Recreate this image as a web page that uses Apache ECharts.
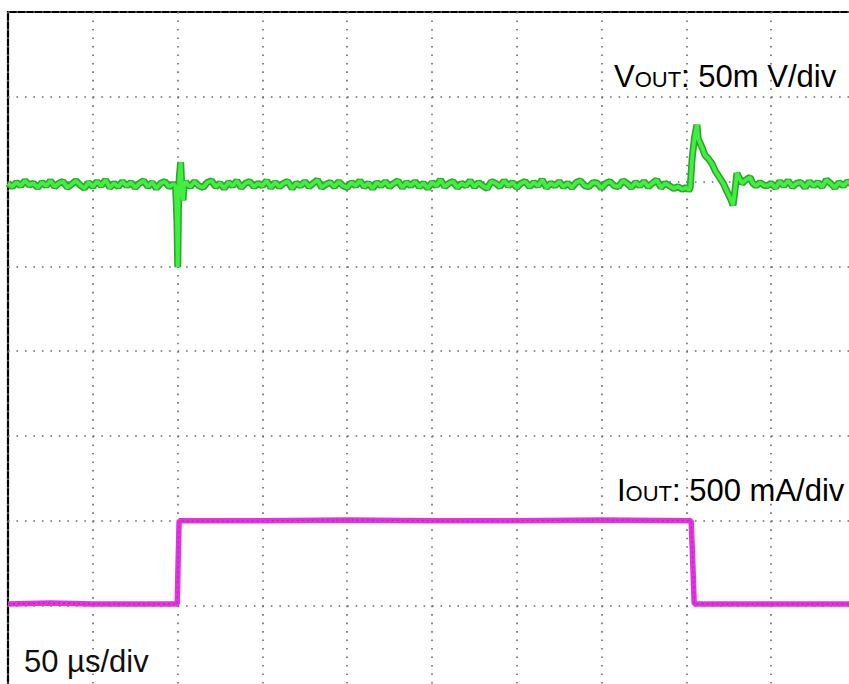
<!DOCTYPE html>
<html>
<head>
<meta charset="utf-8">
<script src="https://cdn.jsdelivr.net/npm/echarts@6/dist/echarts.min.js"></script>
<style>
html,body{margin:0;padding:0;background:#fff;overflow:hidden;}
#chart{width:849px;height:684px;overflow:hidden;}
</style>
</head>
<body>
<div id="chart"></div>
<script>
// Time axis: 50 µs/div, 10 divisions; vertical axis in screen divisions (0..8)
const timeMin = 0, timeMax = 500, timeDiv = 50;
const divMin = 0, divMax = 8, divStep = 1;

// VOUT baseline samples (div units), one every 2.5 µs starting at 0 µs
const voutSampleStep = 2.5;
const voutBaseline = [
  5.98,5.94,5.99,5.95,6.01,5.96,5.98,5.93,5.99,5.95,
  6.01,5.94,5.98,6.00,5.93,5.97,6.01,5.96,5.92,5.99,
  5.94,6.00,5.95,6.02,5.93,5.98,5.94,6.00,5.95,5.99,
  5.93,5.98,6.01,5.94,5.99,5.92,5.98,6.00,5.94,5.97,
  5.98,5.95,5.99,5.94,6.00,5.95,5.93,5.99,6.01,5.94,
  5.98,5.92,5.99,5.95,6.01,5.93,5.98,6.00,5.94,5.98,
  5.95,6.01,5.93,5.99,5.94,5.98,6.00,5.92,5.98,5.95,
  6.00,5.94,5.98,6.02,5.93,5.97,5.99,5.94,6.00,5.95,
  5.93,5.99,5.95,6.01,5.94,5.98,5.92,5.99,5.95,6.00,
  5.94,5.98,6.01,5.93,5.99,5.95,6.00,5.94,5.98,5.92,
  5.99,5.95,6.02,5.94,5.98,6.00,5.93,5.98,5.95,6.01,
  5.94,5.99,5.95,5.92,6.00,5.98,5.94,6.01,5.95,5.99,
  5.93,5.98,6.00,5.94,5.99,5.95,6.02,5.93,5.98,5.95,
  6.00,5.94,5.98,5.93,5.99,6.01,5.95,5.94,5.99,5.98,
  5.92,5.98,6.00,5.95,5.94,6.01,5.98,5.93,5.99,5.95,
  6.00,5.94,5.98,6.02,5.93,5.98,5.95,5.92,5.94,5.91,
  5.93,5.98,5.94,5.99,5.95,6.00,5.94,5.98,5.93,5.95,
  5.99,5.94,5.98,6.01,5.93,5.95,5.99,5.94,5.98,5.95,
  5.98,5.93,6.00,5.95,6.01,5.94,5.98,5.99,5.93,6.00,
  5.95,5.99,5.94,6.02,5.98,5.93,5.99,5.95,6.00,5.97
];

// VOUT transient at load step-up (µs, div)
const voutStepUp = [
  [98.8,5.95],[99.6,5.55],[100.1,4.99],[100.5,5.70],[101.0,6.05],
  [101.8,6.23],[102.3,6.02],[102.8,5.84],[103.2,5.78],[103.8,5.95],
  [104.8,6.00],[106.0,5.96]
];
// VOUT transient at load step-down (µs, div)
const voutStepDown = [
  [400.0,5.93],[401.3,5.90],[402.2,5.92],[403.4,6.28],[404.8,6.52],
  [406.2,6.67],[407.0,6.50],[408.0,6.46],[409.3,6.40],[411.0,6.31],
  [413.0,6.27],[415.1,6.21],[417.2,6.12],[419.8,6.04],[422.0,5.97],
  [424.0,5.88],[426.0,5.80],[427.5,5.72],[428.4,5.86],[429.8,6.10],
  [431.2,6.04],[432.8,5.98],[435.0,6.02],[437.5,6.05],[439.2,5.98],
  [441.0,5.95],[443.5,5.99],[445.5,5.96]
];

// IOUT trace (µs, div)
const ioutTrace = [
  [0,1.02],[25,1.03],[50,1.02],[75,1.02],[99.8,1.02],[100.3,1.50],[100.9,2.00],
  [150,2.00],[200,2.01],[250,2.00],[300,2.00],[350,2.01],[402.8,2.00],
  [403.6,1.60],[404.6,1.02],[450,1.02],[500,1.02]
];

// Annotation texts
const voutLabel = {main:'V', sub:'OUT', rest:': 50m V/div'};
const ioutLabel = {main:'I', sub:'OUT', rest:': 500 mA/div'};
const timebaseLabel = '50 µs/div';

// ---- build VOUT series from the sampled baseline and the transients ----
const windows = [voutStepUp, voutStepDown].map(a => [a[0][0], a[a.length-1][0]]);
const voutData = [];
voutBaseline.forEach((v, i) => {
  const t = i * voutSampleStep;
  if (!windows.some(w => t >= w[0] && t <= w[1])) voutData.push([t, v]);
});
voutStepUp.forEach(p => voutData.push(p));
voutStepDown.forEach(p => voutData.push(p));
voutData.sort((a, b) => a[0] - b[0]);

const chart = echarts.init(document.getElementById('chart'), null, {renderer: 'svg'});
const dotted = {color: '#6a6a6a', width: 1.6, type: [1.6, 6.88]};
const font = 'Liberation Sans, Arial, sans-serif';
function richLabel(l) {
  return '{a|' + l.main + '}{b|' + l.sub + '}{a|' + l.rest + '}';
}
const rich = {
  a: {fontSize: 31, fontFamily: font, color: '#111', lineHeight: 36, verticalAlign: 'bottom'},
  b: {fontSize: 22, fontFamily: font, color: '#111', lineHeight: 36, verticalAlign: 'bottom', padding: [0, 0, 2, 0]}
};

chart.setOption({
  animation: false,
  backgroundColor: '#fff',
  grid: {left: 8, top: 12, width: 848, height: 678.4, show: true, outerBoundsMode: 'none',
         containLabel: false,
         borderColor: '#000', borderWidth: 2.2, backgroundColor: '#fff'},
  xAxis: {type: 'value', min: timeMin, max: timeMax, interval: timeDiv,
          axisLine: {show: false}, axisTick: {show: false}, axisLabel: {show: false},
          splitLine: {show: true, lineStyle: dotted}},
  yAxis: {type: 'value', min: divMin, max: divMax, interval: divStep,
          axisLine: {show: false}, axisTick: {show: false}, axisLabel: {show: false},
          splitLine: {show: true, lineStyle: dotted}},
  series: [
    {type: 'line', data: voutData, showSymbol: false, silent: true,
     lineStyle: {color: '#2fa52f', width: 7}, z: 3},
    {type: 'line', data: voutData, showSymbol: false, silent: true,
     lineStyle: {color: '#3ff03f', width: 3.8}, z: 4},
    {type: 'line', data: ioutTrace, showSymbol: false, silent: true,
     lineStyle: {color: '#e232e2', width: 5.5}, z: 3},
    {type: 'line', data: ioutTrace, showSymbol: false, silent: true,
     lineStyle: {color: '#9a2c98', width: 1.2, type: [2, 3], opacity: 0.7}, z: 4}
  ],
  graphic: [
    {type: 'text', x: 614, y: 92, z: 10,
     style: {text: richLabel(voutLabel), rich: rich, verticalAlign: 'bottom', align: 'left'}},
    {type: 'text', x: 617, y: 506, z: 10,
     style: {text: richLabel(ioutLabel), rich: rich, verticalAlign: 'bottom', align: 'left'}},
    {type: 'text', x: 24, y: 677, z: 10,
     style: {text: timebaseLabel, font: '31px ' + font, fill: '#111', verticalAlign: 'bottom', align: 'left'}}
  ]
});
</script>
</body>
</html>
